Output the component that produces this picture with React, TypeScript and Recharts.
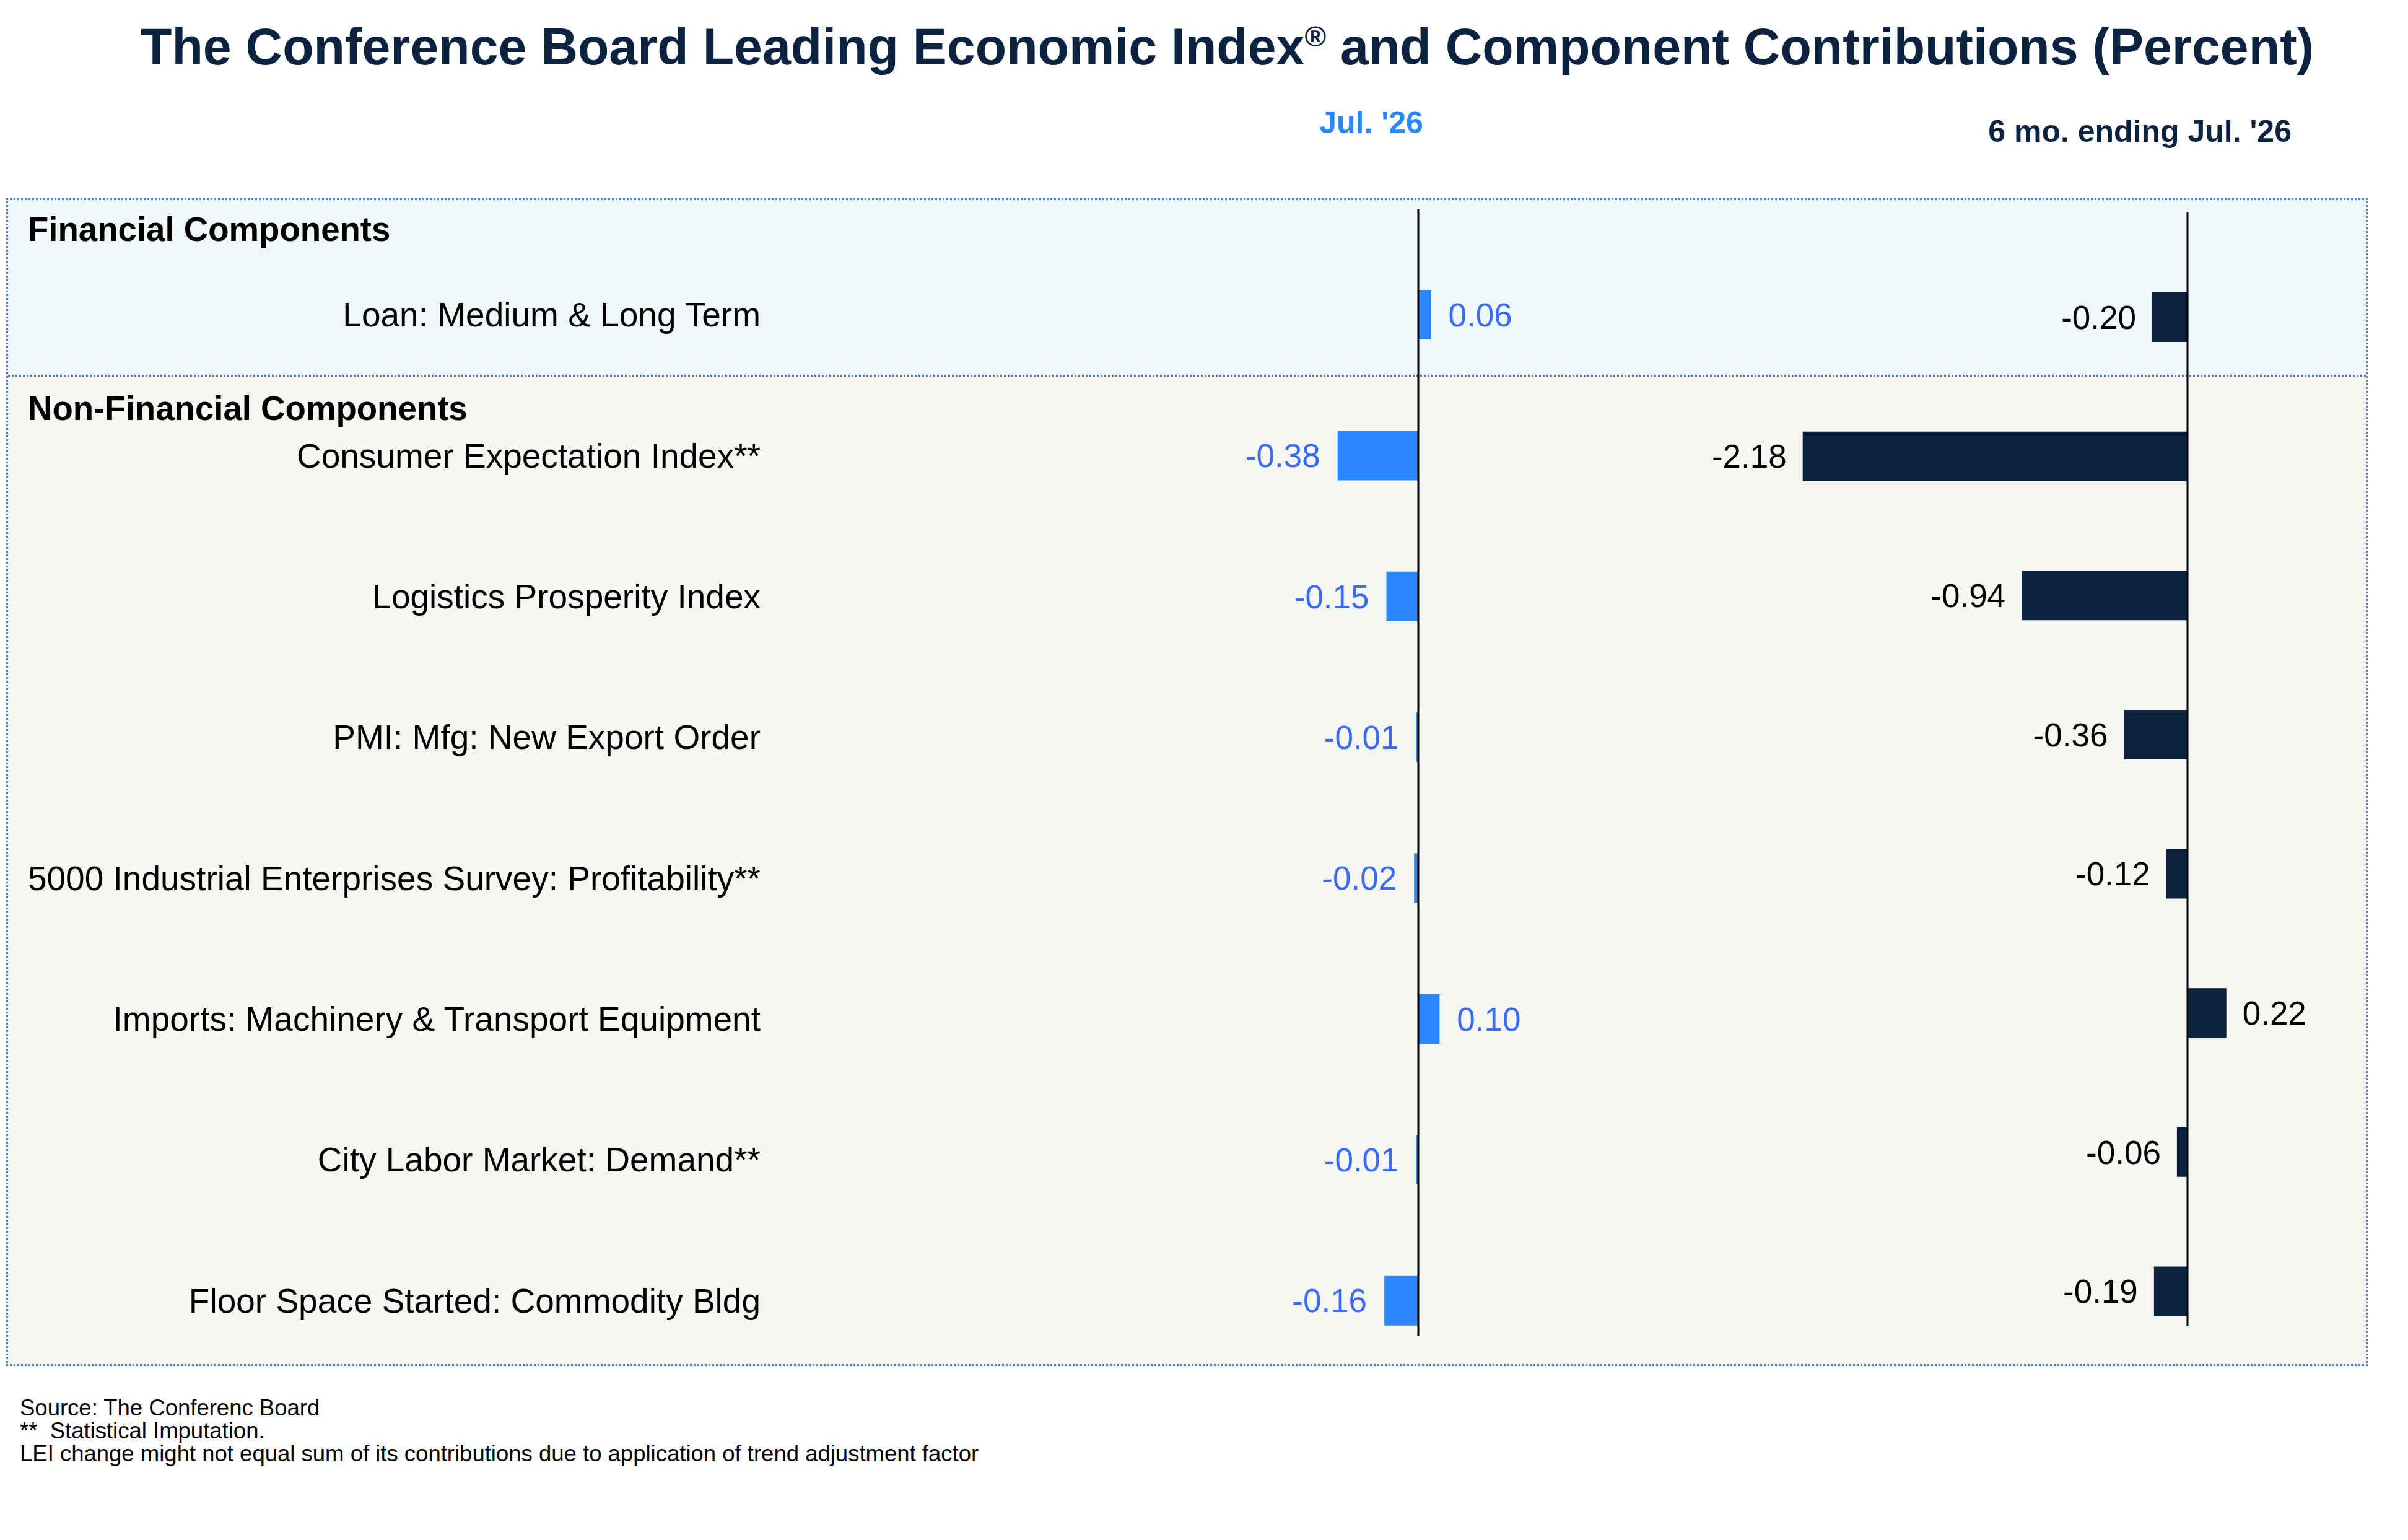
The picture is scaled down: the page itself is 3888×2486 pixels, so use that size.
import { BarChart, Bar, XAxis, YAxis, ReferenceLine, LabelList } from 'recharts';

const FONT = '"Liberation Sans", Arial, Helvetica, sans-serif';
const NAVY = '#0B2341';
const BLUE = '#2B87FF';
const BLUE_TEXT = '#386BF6';
const BORDER = '#4A7EBF';

const categories = [
    'Loan: Medium & Long Term',
    'Consumer Expectation Index**',
    'Logistics Prosperity Index',
    'PMI: Mfg: New Export Order',
    '5000 Industrial Enterprises Survey: Profitability**',
    'Imports: Machinery & Transport Equipment',
    'City Labor Market: Demand**',
    'Floor Space Started: Commodity Bldg',
];

// contribution in the latest month
const julValues = [0.06, -0.38, -0.15, -0.01, -0.02, 0.1, -0.01, -0.16];

// contribution over the 6 months ending in the latest month
const sixMonthValues = [-0.2, -2.18, -0.94, -0.36, -0.12, 0.22, -0.06, -0.19];

const footnotes = [
    'Source: The Conferenc Board',
    '**\u00a0\u00a0Statistical Imputation.',
    'LEI change might not equal sum of its contributions due to application of trend adjustment factor',
];

const rows = categories.map((name, i) => ({ name, jul: julValues[i], six: sixMonthValues[i] }));

// value label: left of negative bars, right of positive ones
const valueLabel = (color: string, gap: number) => (props: any) => {
    const vb = props.viewBox || props;
    const left = Math.min(vb.x, vb.x + vb.width);
    const right = Math.max(vb.x, vb.x + vb.width);
    const cy = vb.y + vb.height / 2;
    const v = Number(props.value);
    const neg = v < 0;
    return (
        <text
            x={neg ? left - gap : right + gap}
            y={cy}
            dy="0.355em"
            textAnchor={neg ? 'end' : 'start'}
            fill={color}
            fontSize={53}
            fontFamily={FONT}
        >
            {v.toFixed(2)}
        </text>
    );
};

// zero line drawn a bit higher than the category bands
const zeroLine = (topShift: number, bottomShift: number) => (p: any) => {
    const top = Math.min(p.y1, p.y2);
    const bottom = Math.max(p.y1, p.y2);
    return <line x1={p.x1} x2={p.x2} y1={top + topShift} y2={bottom + bottomShift} stroke="#000" strokeWidth={3} />;
};

const CategoryTick = (props: any) => (
    <text x={props.x} y={props.y} dy="0.355em" textAnchor="end" fill="#000" fontSize={55} fontFamily={FONT}>
        {props.payload.value}
    </text>
);

export default function App() {
    return (
        <div style={{ position: 'absolute', left: 0, top: 0, width: 3888, height: 2486, background: '#fff', overflow: 'hidden' }}>
            <div
                style={{
                    position: 'absolute',
                    left: 10,
                    top: 320,
                    width: 3813,
                    height: 1885,
                    boxSizing: 'border-box',
                    border: `3px dotted ${BORDER}`,
                    background: '#F7F6F2',
                }}
            >
                <div style={{ height: 285, boxSizing: 'border-box', background: '#EFF7F9', borderBottom: `3px dotted ${BORDER}` }} />
            </div>

            <svg width={3888} height={2486} style={{ position: 'absolute', left: 0, top: 0 }} fontFamily={FONT}>
                <text x={227} y={104} fontSize={82.5} fontWeight="bold" fill={NAVY}>
                    The Conference Board Leading Economic Index
                    <tspan fontSize={47} dy={-29}>®</tspan>
                    <tspan dy={29}> and Component Contributions (Percent)</tspan>
                </text>
                <text x={2214} y={215} fontSize={50} fontWeight="bold" fill={BLUE} textAnchor="middle">
                    Jul. '26
                </text>
                <text x={3700} y={229} fontSize={50} fontWeight="bold" fill={NAVY} textAnchor="end">
                    6 mo. ending Jul. '26
                </text>
                <text x={45} y={389} fontSize={54.6} fontWeight="bold" fill="#000">
                    Financial Components
                </text>
                <text x={45} y={678} fontSize={54.6} fontWeight="bold" fill="#000">
                    Non-Financial Components
                </text>
                {footnotes.map((t, i) => (
                    <text key={i} x={32} y={2285 + i * 37} fontSize={36.5} fill="#000">
                        {t}
                    </text>
                ))}
            </svg>

            <div style={{ position: 'absolute', left: 0, top: 0 }}>
                <BarChart layout="vertical" width={2650} height={2300} data={rows} margin={{ top: 394, right: 17, bottom: 87, left: 0 }}>
                    <XAxis type="number" domain={[-3, 1]} hide />
                    <YAxis
                        type="category"
                        dataKey="name"
                        width={1261}
                        axisLine={false}
                        tickLine={false}
                        tickSize={0}
                        tickMargin={33}
                        interval={0}
                        tick={<CategoryTick />}
                    />
                    <Bar dataKey="jul" fill={BLUE} barSize={80} isAnimationActive={false}>
                        <LabelList dataKey="jul" content={valueLabel(BLUE_TEXT, 28)} />
                    </Bar>
                    <ReferenceLine x={0} shape={zeroLine(-56, -57)} />
                </BarChart>
            </div>

            <div style={{ position: 'absolute', left: 2677, top: 0 }}>
                <BarChart layout="vertical" width={1160} height={2300} data={rows} margin={{ top: 400, right: 20, bottom: 103, left: 0 }}>
                    <XAxis type="number" domain={[-3, 1]} hide />
                    <YAxis type="category" dataKey="name" hide />
                    <Bar dataKey="six" fill={NAVY} barSize={80} isAnimationActive={false}>
                        <LabelList dataKey="six" content={valueLabel('#000', 26)} />
                    </Bar>
                    <ReferenceLine x={0} shape={zeroLine(-57, -56)} />
                </BarChart>
            </div>
        </div>
    );
}
